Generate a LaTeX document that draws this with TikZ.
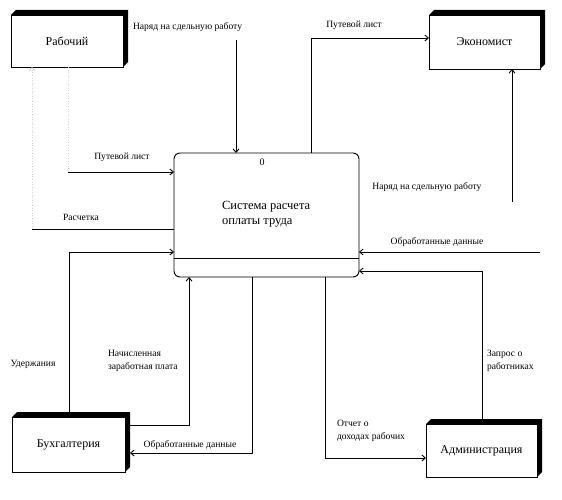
\documentclass[tikz,border=0pt]{standalone}
\usepackage{fontspec}
\setmainfont{Liberation Serif}
\usetikzlibrary{arrows.meta,calc,backgrounds}
\begin{document}
\begin{tikzpicture}[x=1pt,y=-1pt,
 every node/.style={inner sep=0pt, outer sep=0pt},
 ent/.style={draw, line width=0.9pt, fill=white, font=\fontsize{12}{14}\selectfont},
 procbox/.style={draw, line width=0.9pt, rounded corners=6pt, minimum width=185pt, minimum height=124pt},
 flow/.style={line width=0.9pt, -{Straight Barb[length=3.5pt,width=6pt]}},
 plain/.style={line width=0.9pt},
 faint/.style={gray!35, dotted, line width=0.6pt},
 faintflow/.style={faint, -{Straight Barb[length=3.5pt,width=6pt]}},
 lbl/.style={font=\fontsize{9.6}{12.8}\selectfont, align=left}]
\useasboundingbox (0,0) rectangle (562,500);

% external entities
\node[ent, minimum width=112pt, minimum height=52pt] (rab) at (67,41) {Рабочий};
\node[ent, minimum width=111pt, minimum height=54pt] (eco) at (484.5,42) {Экономист};
\node[ent, minimum width=113pt, minimum height=55pt] (buh) at (68.5,444.5) {Бухгалтерия};
\node[ent, minimum width=111pt, minimum height=53pt] (adm) at (481.5,450.5) {Администрация};
\begin{scope}[on background layer]
 \foreach \n in {rab,eco,buh,adm}
  \fill (\n.north west) -- ++(5,-5) -- ($(\n.north east)+(5,-5)$) -- ($(\n.south east)+(5,-5)$) -- (\n.south east) -- cycle;
\end{scope}

% process
\node[procbox] (proc) at (266.5,215) {};
\draw[plain] (proc.west |- 0,258) -- (proc.east |- 0,258);
\node[font=\fontsize{10}{12}\selectfont] (pnum) at (262,162) {0};
\node[font=\fontsize{12.5}{15}\selectfont, align=left, anchor=west] (ptext) at (222,214) {Система расчета\\оплаты труда};

% flows
\coordinate (n1) at (236,40);
\draw[flow] (n1) -- (n1 |- proc.north);
\draw[flow] (proc.north -| 311,0) |- ([yshift=4pt]eco.west);
\coordinate (n3) at (512,202);
\draw[flow] (n3) -- (n3 |- eco.south);
\coordinate (n4) at (540,252);
\draw[flow] (n4) -- (n4 -| proc.east);
\draw[flow] (adm.north -| 482,0) |- (proc.east |- 0,271);
\draw[flow] (proc.south -| 325,0) |- (adm.west |- 0,458);
\draw[flow] (proc.south -| 252,0) |- ([xshift=5pt]buh.east |- 0,453);
\draw[flow] ([xshift=5pt]buh.east |- 0,425) -| (proc.south -| 189,0);
\draw[flow] ([yshift=5pt]buh.north -| 69,0) |- (proc.west |- 0,252);
\coordinate (c10) at (68,172);
\draw[faint] (rab.south -| c10) -- (c10);
\draw[flow] (c10) -- (c10 -| proc.west);
\coordinate (c11) at (32,229);
\draw[plain] (proc.west |- c11) -- (c11);
\draw[faintflow] (c11) -- (c11 |- rab.south);

% labels
\node[lbl, anchor=west] (l1) at (133,27) {Наряд на сдельную работу};
\node[lbl] (l2) at (354,25) {Путевой лист};
\node[lbl] (l3) at (427,187) {Наряд на сдельную работу};
\node[lbl] (l4) at (437,242) {Обработанные данные};
\node[lbl, anchor=north west] (l5) at (487,350) {Запрос о\\работниках};
\node[lbl, anchor=north west] (l6) at (337,420) {Отчет о\\доходах рабочих};
\node[lbl] (l7) at (190,445) {Обработанные данные};
\node[lbl, anchor=north west] (l8) at (108,350) {Начисленная\\заработная плата};
\node[lbl] (l9) at (33,364) {Удержания};
\node[lbl] (l10) at (122,157) {Путевой лист};
\node[lbl] (l11) at (81,217) {Расчетка};
\end{tikzpicture}
\end{document}
